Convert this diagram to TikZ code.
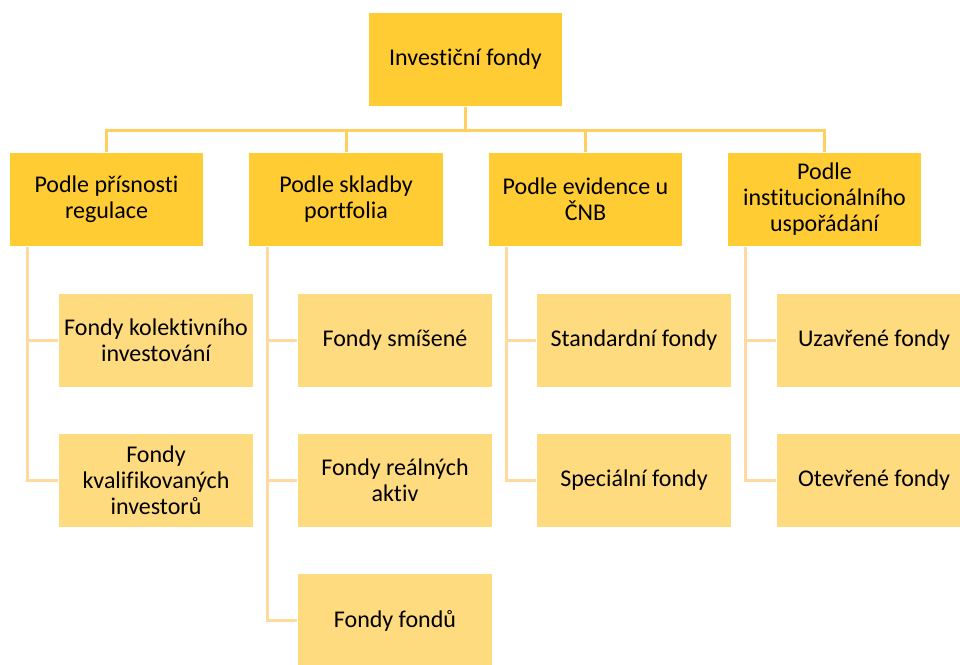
\documentclass[tikz,border=0pt]{standalone}
\usepackage{fontspec}
\setmainfont[Ligatures=NoCommon]{Carlito}
\usetikzlibrary{positioning}
\definecolor{fondgold}{RGB}{255,204,51}
\definecolor{fondlight}{RGB}{255,219,128}
\definecolor{busline}{RGB}{255,207,95}
\definecolor{subline}{RGB}{255,217,160}

\begin{document}
\begin{tikzpicture}[x=0.75pt,y=-0.75pt,font=\fontsize{18}{19.5}\selectfont,
  headbox/.style={draw=white,line width=0.75pt,fill=fondgold,minimum width=146pt,minimum height=71pt,align=center,inner sep=2pt},
  fundbox/.style={headbox,fill=fondlight},
  busedge/.style={draw=busline,line width=2.25pt},
  subedge/.style={draw=subline,line width=2.25pt}]

\useasboundingbox (0,0) rectangle (960,664);
\clip (0,0) rectangle (960,664);

% Root and bus
\node[headbox] (root) at (465.5,59.5) {Investiční fondy};
\coordinate (bus) at (465.5,130);

% === Level 1: criteria ===
\node[headbox] (crit1) at (106.5,199.5) {Podle přísnosti\\regulace};
\node[headbox] (crit2) at (346,199.5) {Podle skladby\\portfolia};
\node[headbox] (crit3) at (585.5,199.5) {Podle evidence u\\ČNB};
\node[headbox] (crit4) at (824.5,199.5) {Podle\\institucionálního\\uspořádání};

\draw[busedge] (root.south) -- (bus);
\foreach \c in {crit1,crit2,crit3,crit4}
    \draw[busedge] (bus) -| (\c.north);

% === Level 2: fund types ===
\node[fundbox] (f11) at (156,340.5) {Fondy kolektivního\\investování};
\node[fundbox] (f12) at (156,480.5) {Fondy\\kvalifikovaných\\investorů};

\node[fundbox] (f21) at (395,340.5) {Fondy smíšené};
\node[fundbox] (f22) at (395,480.5) {Fondy reálných\\aktiv};
\node[fundbox] (f23) at (395,620.5) {Fondy fondů};

\node[fundbox] (f31) at (634,340.5) {Standardní fondy};
\node[fundbox] (f32) at (634,480.5) {Speciální fondy};

\node[fundbox] (f41) at (874,340.5) {Uzavřené fondy};
\node[fundbox] (f42) at (874,480.5) {Otevřené fondy};

% Spines from each criterion
\foreach \c/\f in {crit1/f11,crit1/f12,crit2/f21,crit2/f22,crit2/f23,crit3/f31,crit3/f32,crit4/f41,crit4/f42}
    \draw[subedge] ([xshift=14.25pt]\c.south west) |- (\f.west);

\end{tikzpicture}
\end{document}
